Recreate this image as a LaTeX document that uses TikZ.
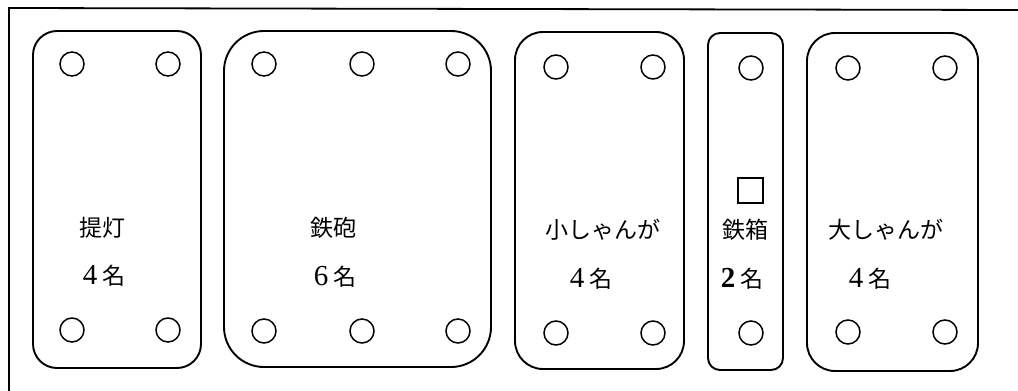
\documentclass[tikz,border=0pt]{standalone}
\usepackage{fontspec}
\newfontfamily\jp{Noto Sans CJK JP}
\newfontfamily\dig{Liberation Serif}
\tikzset{
  plate/.style={draw, line width=1.9pt, inner sep=0pt, outer sep=0pt},
  hole/.style={draw, circle, line width=1.5pt, minimum size=24pt, inner sep=0pt},
  lbl/.style={inner sep=0pt, font=\jp\fontsize{23}{26}\selectfont},
  frame/.style={line width=1.8pt}
}
\newcommand{\nm}[1]{{\dig\fontsize{29}{30}\selectfont #1}\hspace{5pt}名}
\begin{document}
\begin{tikzpicture}[x=1pt,y=-1pt]
\useasboundingbox (0,0) rectangle (1018,391);
% frame
\coordinate (ftl) at (9,8);
\coordinate (ftr) at (1018,10);
\coordinate (fbl) at (9,391);
\draw[frame] (fbl) -- (ftl) -- (ftr);
% plates
\node[plate, rounded corners=24pt, minimum width=168pt, minimum height=337pt] (p1) at (117,199.5) {};
\node[plate, rounded corners=40pt, minimum width=267pt, minimum height=336pt] (p2) at (357.5,199) {};
\node[plate, rounded corners=28pt, minimum width=169pt, minimum height=337pt] (p3) at (599.5,200.5) {};
\node[plate, rounded corners=12pt, minimum width=75pt, minimum height=337pt] (p4) at (745.5,201.5) {};
\node[plate, rounded corners=28pt, minimum width=171pt, minimum height=338pt] (p5) at (892.5,202) {};
% holes
\node[hole] (h1a) at (72,64) {};
\node[hole] (h1b) at (168,64) {};
\node[hole] (h1c) at (72,330) {};
\node[hole] (h1d) at (168,330) {};
\node[hole] (h2a) at (264,64) {};
\node[hole] (h2b) at (362,64) {};
\node[hole] (h2c) at (458,64) {};
\node[hole] (h2d) at (264,331) {};
\node[hole] (h2e) at (362,331) {};
\node[hole] (h2f) at (458,331) {};
\node[hole] (h3a) at (556,67) {};
\node[hole] (h3b) at (653,67) {};
\node[hole] (h3c) at (556,333) {};
\node[hole] (h3d) at (653,333) {};
\node[hole] (h4a) at (751,68) {};
\node[hole] (h4b) at (751,333) {};
\node[hole] (h5a) at (848,68) {};
\node[hole] (h5b) at (945,68) {};
\node[hole] (h5c) at (848,332) {};
\node[hole] (h5d) at (945,332) {};
% square
\node[draw, line width=2pt, minimum size=25pt, inner sep=0pt] (sq) at (750,190) {};
% labels
\node[lbl] (t1) at (102,228) {提灯};
\node[lbl, anchor=base] (n1) at (104,284) {\nm{4}};
\node[lbl] (t2) at (333,228) {鉄砲};
\node[lbl, anchor=base] (n2) at (335,285) {\nm{6}};
\node[lbl] (t3) at (603,230) {小しゃんが};
\node[lbl, anchor=base] (n3) at (591,287) {\nm{4}};
\node[lbl] (t4) at (745,230) {鉄箱};
\node[lbl, anchor=base] (n4) at (742,287) {\nm{\textbf{2}}};
\node[lbl] (t5) at (886,230) {大しゃんが};
\node[lbl, anchor=base] (n5) at (870,287) {\nm{4}};
\end{tikzpicture}
\end{document}
